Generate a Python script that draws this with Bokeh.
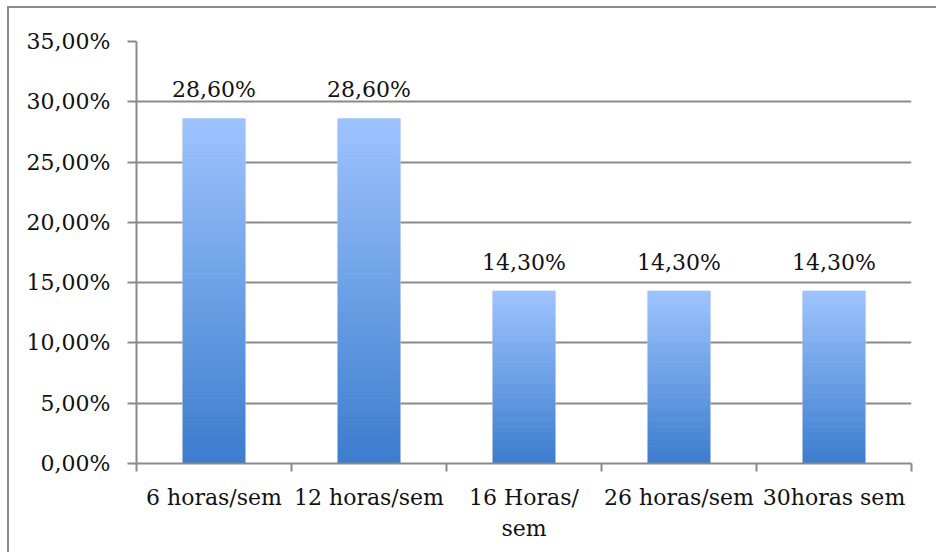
from bokeh.plotting import figure
from bokeh.models import (ColumnDataSource, Range1d, FixedTicker, CustomJSTickFormatter)
from bokeh.core.properties import value
from bokeh.embed import file_html
from bokeh.resources import INLINE

# ---- data ----
categories = ["6 horas/sem", "12 horas/sem", "16 Horas/\nsem", "26 horas/sem", "30horas sem"]
values = [0.286, 0.286, 0.143, 0.143, 0.143]
value_labels = ["28,60%", "28,60%", "14,30%", "14,30%", "14,30%"]
y_ticks = [0.0, 0.05, 0.10, 0.15, 0.20, 0.25, 0.30, 0.35]

FONT = "DejaVu Serif"
GRID = "#8a8a8a"
TOP_RGB = (158, 196, 255)
BOT_RGB = (60, 125, 206)

p = figure(width=929, height=546, output_backend="svg", toolbar_location=None,
           x_range=Range1d(0, len(categories)), y_range=Range1d(0, 0.35),
           min_border_left=127, min_border_right=27, min_border_top=33, min_border_bottom=91)
p.outline_line_color = None
p.background_fill_color = "white"
p.border_fill_color = "white"
p.styles = {"margin-left": "7px", "margin-top": "6px",
            "border-left": "2px solid #8c8c8c", "border-top": "2px solid #8c8c8c"}

# shadow behind bars
xs = [i + 0.5 for i in range(len(categories))]
p.vbar(x=xs, top=values, bottom=0, width=0.415, fill_color="#d6d6d6", fill_alpha=0.6, line_color=None)

# gradient bars built from slices of each bar's value
N = 80
sx, stop, sbot, scol = [], [], [], []
for x, v in zip(xs, values):
    for i in range(N):
        f = (i + 0.5) / N  # 0 bottom -> 1 top
        r = int(BOT_RGB[0] + (TOP_RGB[0] - BOT_RGB[0]) * f)
        g = int(BOT_RGB[1] + (TOP_RGB[1] - BOT_RGB[1]) * f)
        b = int(BOT_RGB[2] + (TOP_RGB[2] - BOT_RGB[2]) * f)
        sx.append(x)
        sbot.append(v * i / N)
        stop.append(v * (i + 1) / N)
        scol.append("#%02x%02x%02x" % (r, g, b))
src = ColumnDataSource(dict(x=sx, top=stop, bottom=sbot, color=scol))
p.vbar(x="x", top="top", bottom="bottom", width=0.4, fill_color="color", line_color="color",
       line_width=0.8, source=src)

# value labels
p.text(x=xs, y=values, text=value_labels, text_align="center", text_baseline="alphabetic",
       y_offset=-29, text_font=value(FONT), text_font_size="22px", text_color="#111111")

# y axis
p.yaxis.ticker = FixedTicker(ticks=y_ticks, minor_ticks=[])
p.yaxis.formatter = CustomJSTickFormatter(code="return (tick*100).toFixed(2).replace('.', ',') + '%';")
p.yaxis.axis_line_color = GRID
p.yaxis.axis_line_width = 2
p.yaxis.major_tick_line_color = GRID
p.yaxis.major_tick_line_width = 2
p.yaxis.major_tick_out = 9
p.yaxis.major_tick_in = 0
p.yaxis.major_label_standoff = 17
p.yaxis.major_label_text_font = FONT
p.yaxis.major_label_text_font_size = "22px"
p.yaxis.major_label_text_color = "#111111"

# x axis: labels at centers, tick marks at category boundaries
p.xaxis.ticker = FixedTicker(ticks=xs, minor_ticks=list(range(len(categories) + 1)))
p.xaxis.formatter = CustomJSTickFormatter(args=dict(labels=categories),
                                          code="return labels[Math.floor(tick)];")
p.xaxis.axis_line_color = GRID
p.xaxis.axis_line_width = 2
p.xaxis.major_tick_line_color = None
p.xaxis.major_tick_out = 8
p.xaxis.major_tick_in = 0
p.xaxis.minor_tick_line_color = GRID
p.xaxis.minor_tick_line_width = 2
p.xaxis.minor_tick_out = 8
p.xaxis.minor_tick_in = 0
p.xaxis.major_label_standoff = 13
p.xaxis.major_label_text_font = FONT
p.xaxis.major_label_text_font_size = "22px"
p.xaxis.major_label_text_color = "#111111"
p.xaxis.major_label_text_line_height = 1.25

p.xgrid.grid_line_color = None
p.ygrid.ticker = FixedTicker(ticks=y_ticks)
p.ygrid.grid_line_color = GRID
p.ygrid.grid_line_width = 2

open("out.html", "w").write(file_html(p, INLINE))
